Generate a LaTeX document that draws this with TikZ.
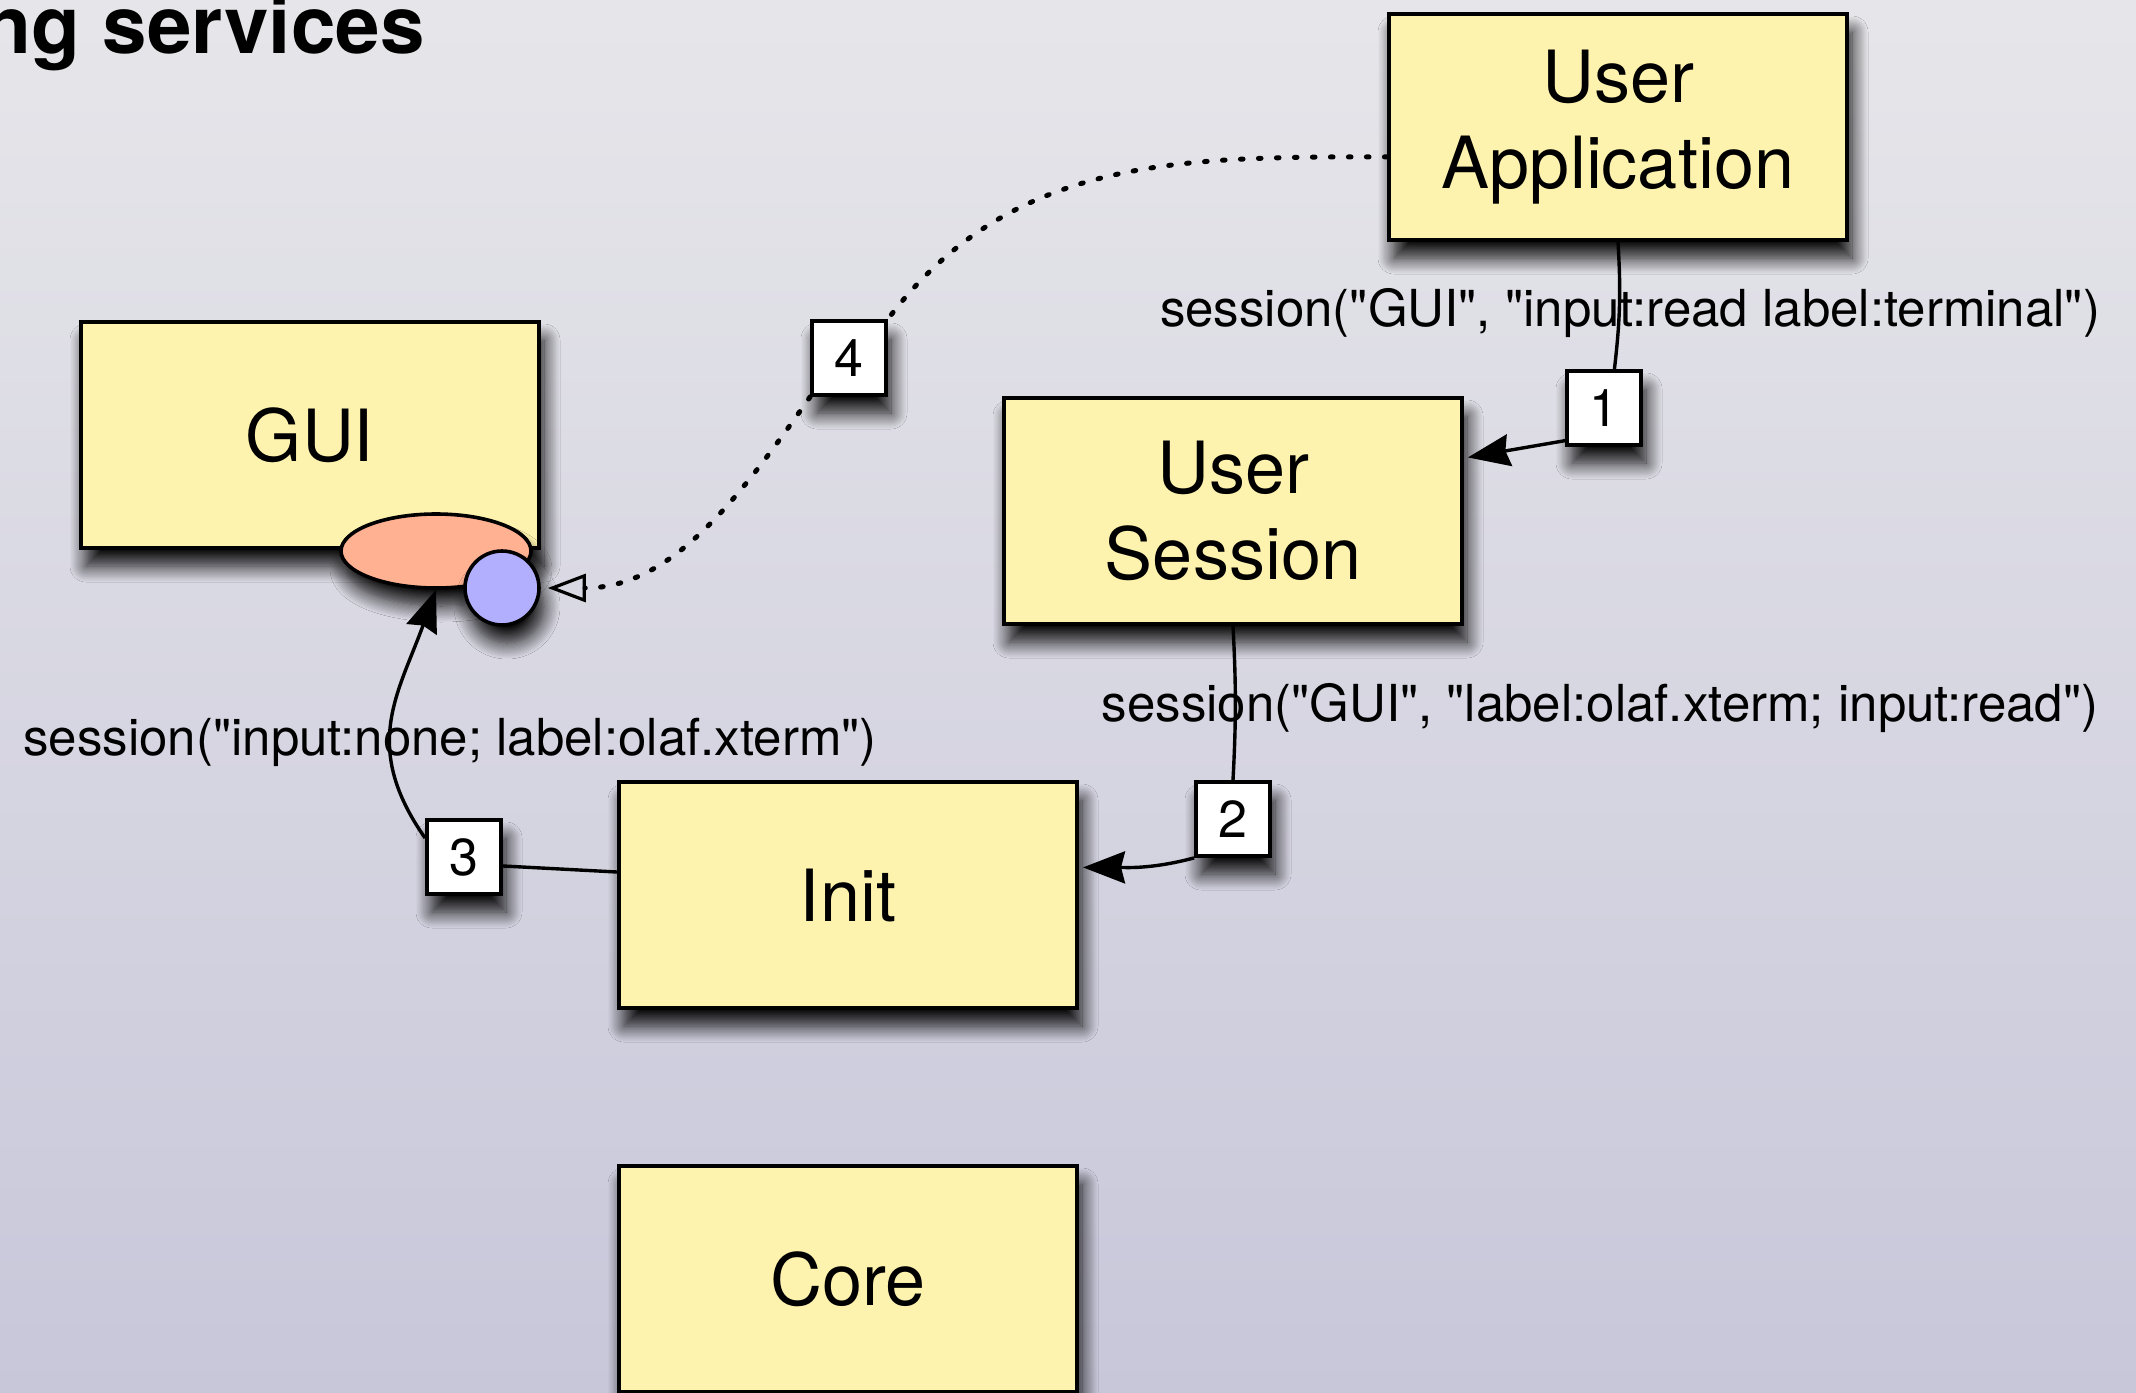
\documentclass[tikz,border=0pt]{standalone}
\usepackage{fontspec}
\setmainfont{TeX Gyre Heros}[Ligatures=TeXOff]
\usetikzlibrary{arrows.meta,calc,positioning,shapes.geometric,shadows.blur}
\definecolor{boxfill}{HTML}{FEF3AE}
\definecolor{svcfill}{HTML}{FFB192}
\definecolor{capfill}{HTML}{B3AFFF}
\definecolor{bgtop}{HTML}{E6E6EA}
\definecolor{bgbot}{HTML}{C8C7DA}

\begin{document}
\begin{tikzpicture}[x=0.5pt, y=0.5pt,
    shadowed/.style={blur shadow={shadow xshift=2.5pt, shadow yshift=-9pt, shadow blur radius=8pt, shadow opacity=95, shadow blur steps=14}},
    comp/.style={draw, line width=2pt, fill=boxfill, minimum width=229pt, minimum height=113pt, align=center, font=\fontsize{36}{43}\selectfont, shadowed},
    numbox/.style={draw, line width=1.9pt, fill=white, minimum size=37pt, inner sep=0pt, font=\fontsize{26}{30}\selectfont, shadowed},
    lbl/.style={font=\fontsize{25.5}{30}\selectfont, inner sep=0pt},
    conn/.style={line width=1.7pt},
    call/.style={conn, -{Stealth[inset=2pt, length=21pt, width=16pt]}, shorten >=2pt},
    dots/.style={line width=2.5pt, line cap=round, dash pattern=on 1.3pt off 7.7pt},
    hollow/.style={-{Triangle[open, length=19pt, width=14pt, line width=1.6pt]}}]
    \shade[top color=bgtop, bottom color=bgbot] (0,0) rectangle (2136,-1392);
    \useasboundingbox (0,0) rectangle (2136,-1392);

    \node[anchor=base east, inner sep=0pt, font=\fontsize{40}{48}\selectfont\bfseries] (title) at (425,-54) {ng services};

    \node[comp] (app) at (1618,-127) {User\\Application};
    \node[comp] (gui) at (310,-435) {GUI};
    \node[comp] (sess) at (1233,-511) {User\\Session};
    \node[comp] (init) at (848,-895) {Init};
    \node[comp, below=77pt of init] (core) {Core};

    \node[draw, ellipse, line width=1.8pt, fill=svcfill, minimum width=95pt, minimum height=37pt, shadowed] (gsvc) at (436,-551) {};
    \node[draw, circle, line width=1.8pt, fill=capfill, minimum size=37pt, inner sep=0pt, shadowed] (gcap) at (502,-588) {};

    \node[lbl] (lbl1) at (1630,-313) {session("GUI", "input:read label:terminal")};
    \node[lbl] (lbl2) at (1600,-708) {session("GUI", "label:olaf.xterm; input:read")};
    \node[lbl] (lbl3) at (450,-742) {session("input:none; label:olaf.xterm")};

    \node[numbox] (n1) at (1604,-408) {1};
    \node[numbox] (n2) at (1233,-819) {2};
    \node[numbox] (n3) at (464,-857) {3};
    \node[numbox] (n4) at (849,-358) {4};

    \coordinate (sessin) at ($(sess.north east)!0.27!(sess.south east)$);
    \coordinate (initin) at ($(init.north east)!0.38!(init.south east)$);
    \coordinate (initout) at ($(init.north west)!0.4!(init.south west)$);
    \coordinate (appout) at ($(app.north west)!0.63!(app.south west)$);

    \draw[conn] (app.south) to[bend left=5] (n1.75);
    \draw[call] (n1.220) -- (sessin);
    \draw[conn] (sess.south) to[bend left=3] (n2.north);
    \draw[call] (n2.225) to[out=195, in=0] (initin);
    \draw[conn] (initout) -- (n3.-13);
    \draw[call, shorten >=0pt] (n3.154) to[out=125, in=-110, looseness=1.15] (gsvc.south);
    \draw[dots] (appout) to[out=180, in=53] (n4.north east);
    \draw[dots, hollow, shorten >=3.5pt] (n4.south west) to[out=235, in=0] (gcap.east);
\end{tikzpicture}
\end{document}
